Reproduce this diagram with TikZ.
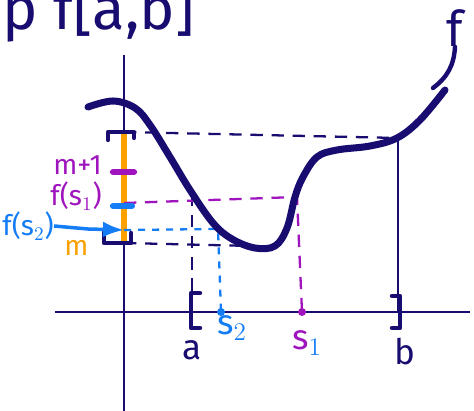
\documentclass[tikz,border=0pt]{standalone}
\usepackage{fontspec}
\setmainfont{Fira Sans}
\usetikzlibrary{arrows.meta}
\definecolor{ink}{RGB}{24,12,112}
\definecolor{plum}{RGB}{160,20,190}
\definecolor{sky}{RGB}{20,125,245}
\definecolor{amber}{RGB}{250,160,0}

\tikzset{
  axis/.style={ink, line width=1.1pt},
  graph/.style={ink, line width=4pt, line cap=round},
  guide/.style={line width=1.3pt, dash pattern=on 7pt off 5pt},
  brak/.style={ink, line width=2.5pt, line cap=round, line join=round},
  tick/.style={line width=3.5pt, line cap=round},
  lbl/.style={font=\fontsize{20}{22}\selectfont, inner sep=0pt},
  side/.style={font=\fontsize{16}{18}\selectfont, inner sep=0pt},
}

\begin{document}
\begin{tikzpicture}[x=0.02cm, y=-0.02cm]
\useasboundingbox (0,0) rectangle (474,411);

% axes
\coordinate (ytop) at (124,55);
\coordinate (ybot) at (124,411);
\coordinate (xl) at (55,312);
\coordinate (xr) at (470,312);
\draw[axis] (ytop) -- (ybot);
\draw[axis] (xl) -- (xr);

% points on the axes
\coordinate (M1) at (124,132);
\coordinate (M0) at (124,243);
\coordinate (Mp) at (124,172);
\coordinate (Fs1) at (124,203);
\coordinate (Fs2) at (124,230);
\coordinate (A) at (192,312);
\coordinate (B) at (398,312);
\coordinate (S1) at (302,312);
\coordinate (S2) at (221,312);

% points on the curve
\coordinate (Pa) at (192,194);
\coordinate (Pb) at (398,138);
\coordinate (Ps1) at (297,197);
\coordinate (Ps2) at (218,229);
\coordinate (Pmin) at (252,246);

% range on the y-axis
\draw[amber, line width=3pt] (M1) -- (M0);

% guides
\draw[guide, ink] (M1) -- (Pb);
\draw[ink, line width=1pt] (Pb) -- (B);
\draw[guide, ink] (M0) -- (Pmin);
\draw[guide, ink] (Pa) -- (A);
\draw[guide, plum] (Fs1) -- (Ps1) -- (S1);
\draw[guide, sky, dash pattern=on 4pt off 4pt] (Fs2) -- (Ps2) -- (S2);
\fill[sky] (S2) circle (4);
\fill[plum] (S1) circle (4);

% brackets
\draw[brak] (108,140) -- (108,132) -- (134,132) -- (134,138);
\draw[brak] (104,232) -- (104,243) -- (131,243) -- (131,233);
\draw[brak] (200,293) -- (191,293) -- (191,328) -- (200,328);
\draw[brak] (392,296) -- (400,296) -- (400,328) -- (392,328);

% ticks
\draw[tick, plum] (113,172) -- (134,172);
\draw[tick, sky] (113,206) -- (132,206);

% the function
\draw[graph] plot[smooth, tension=0.6] coordinates {(88,107) (113,101) (135,108) (150,125) (170,157) (190,190) (213,223) (232,239) (255,248) (275,246) (287,228) (295,197) (303,177) (317,157) (337,150) (370,146) (397,138) (420,120) (445,90)};

% labels
\node[side, plum, anchor=east] (lmp) at (102,165) {m+1};
\node[side, plum, anchor=east] (lfs1) at (102,196) {f(s$_1$)};
\node[side, sky, anchor=west] (lfs2) at (2,226) {f(s$_2$)};
\node[side, amber, anchor=west] (lm) at (64,248) {m};
\coordinate (bend2) at (88,229);
\draw[sky, line width=2pt, -{Latex}] (lfs2.east) -- (bend2) -- (Fs2);
\node[lbl, ink] (la) at (192,350) {a};
\node[lbl, sky] (ls2) at (232,328) {s$_2$};
\node[lbl, plum] (ls1) at (307,343) {s$_{\textcolor{sky}{1}}$};
\node[lbl, ink] (lb) at (405,352) {b};
\node[lbl, ink, anchor=base west, font=\fontsize{34}{36}\selectfont] (title) at (2,30) {p f[a,b]};
\node[lbl, ink, font=\fontsize{28}{30}\selectfont] (lf) at (455,28) {f};
\coordinate (ftip) at (433,88);
\draw[ink, line width=2.5pt, line cap=round] (lf.south) to[bend left=25] (ftip);
\end{tikzpicture}
\end{document}
